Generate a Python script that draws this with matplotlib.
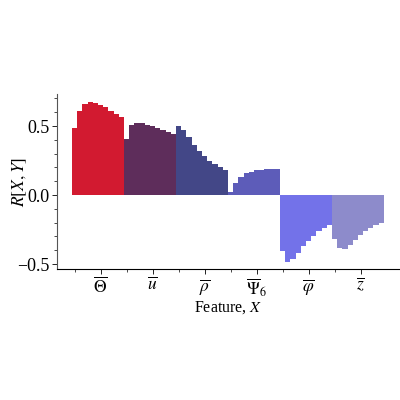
import numpy as np
import matplotlib
matplotlib.use('Agg')
import matplotlib.pyplot as plt
from matplotlib.ticker import MultipleLocator, FixedLocator

plt.rcParams['font.family'] = ['Liberation Serif', 'DejaVu Serif']
plt.rcParams['mathtext.fontset'] = 'stix'
plt.rcParams['font.size'] = 11.5

# feature labels and correlations (10 values per feature)
features = [r'$\overline{\Theta}$', r'$\overline{u}$', r'$\overline{\rho}$',
            r'$\overline{\Psi}_6$', r'$\overline{\varphi}$', r'$\overline{z}$']
colors = ['#d21a30', '#5e2d5b', '#434787', '#5d5cb9', '#7372e9', '#8d8bcb']

r_theta = [0.483, 0.609, 0.659, 0.674, 0.669, 0.652, 0.635, 0.611, 0.587, 0.565]
r_u = [0.403, 0.507, 0.522, 0.519, 0.510, 0.497, 0.483, 0.471, 0.457, 0.442]
r_rho = [0.500, 0.471, 0.418, 0.362, 0.319, 0.280, 0.249, 0.222, 0.200, 0.181]
r_psi6 = [0.021, 0.085, 0.127, 0.157, 0.169, 0.179, 0.184, 0.186, 0.188, 0.188]
r_phi = [-0.403, -0.483, -0.466, -0.423, -0.370, -0.331, -0.295, -0.263, -0.239, -0.217]
r_z = [-0.321, -0.386, -0.394, -0.362, -0.326, -0.290, -0.258, -0.237, -0.220, -0.205]

data = [r_theta, r_u, r_rho, r_psi6, r_phi, r_z]

fig = plt.figure(figsize=(4, 4), dpi=100)
ax = fig.add_axes([0.1425, 0.3275, 0.8575, 0.4375])

w = 0.1
for i, vals in enumerate(data):
    x = i + (np.arange(len(vals)) - 5) * w
    ax.bar(x, vals, width=w, color=colors[i], linewidth=0)

ax.set_xticks(range(len(features)))
ax.set_xticklabels(features, fontsize=12.5)
ax.xaxis.set_minor_locator(FixedLocator(np.arange(len(features)) - 0.5))
ax.yaxis.set_major_locator(MultipleLocator(0.5))
ax.yaxis.set_minor_locator(MultipleLocator(0.1))
ax.tick_params(axis='y', labelsize=13)
ax.tick_params(which='major', length=3.5, width=0.6, pad=2)
ax.tick_params(which='minor', length=2, width=0.5)

ax.set_xlim(-0.84, 5.76)
ax.set_ylim(-0.536, 0.732)

ax.spines['top'].set_visible(False)
ax.spines['right'].set_visible(False)
ax.spines['left'].set_color('#555555')

ax.set_xlabel('Feature, $X$', labelpad=0)
ax.set_ylabel('$R[X,Y]$', fontsize=12.5, va='center')
ax.yaxis.set_label_coords(-0.108, 0.5)

plt.savefig('out.png', dpi=100)
